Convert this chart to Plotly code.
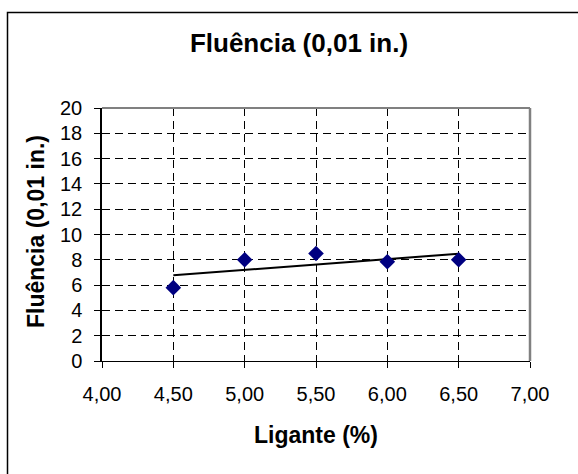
import numpy as np
import plotly.graph_objects as go

# Data
ligante = [4.5, 5.0, 5.5, 6.0, 6.5]
fluencia = [5.8, 8.0, 8.5, 7.85, 8.0]

title_text = "Fluência (0,01 in.)"
x_title = "Ligante (%)"
y_title = "Fluência (0,01 in.)"

FONT = "Liberation Sans, Arial, sans-serif"

# Linear trendline (Excel-style) computed from the data
coef = np.polyfit(ligante, fluencia, 1)
trend_x = [min(ligante), max(ligante)]
trend_y = list(np.polyval(coef, trend_x))

fig = go.Figure()
fig.add_trace(go.Scatter(
    x=trend_x, y=trend_y, mode="lines",
    line=dict(color="black", width=2), showlegend=False, hoverinfo="skip"))
fig.add_trace(go.Scatter(
    x=ligante, y=fluencia, mode="markers",
    marker=dict(symbol="diamond", size=12, color="#000080", line=dict(width=0)),
    showlegend=False))

W, H = 578, 474
L, R, T, B = 102, 48, 108, 113
pw = W - L - R
ph = H - T - B

def px_x(px):
    return (px - L) / pw

def px_y(py):
    return (H - B - py) / ph

fig.update_layout(
    width=W, height=H,
    margin=dict(l=L, r=R, t=T, b=B),
    paper_bgcolor="white", plot_bgcolor="white",
    separators=",.",
    font=dict(family=FONT, color="black"),
    title=dict(text="<b>" + title_text + "</b>", font=dict(size=26, family=FONT, color="black"),
               x=299 / W, xanchor="center", xref="container",
               y=(H - 43) / H, yanchor="middle", yref="container"),
    xaxis=dict(range=[4, 7], dtick=0.5, tick0=4, tickformat=".2f",
               showgrid=True, gridcolor="black", gridwidth=1, griddash="8px,5px",
               showline=True, linecolor="black", linewidth=1,
               ticks="outside", ticklen=6, tickcolor="black", tickwidth=1,
               tickfont=dict(size=20, family=FONT, color="black"),
               ticklabelstandoff=9, zeroline=False, fixedrange=True),
    yaxis=dict(range=[0, 20], dtick=2, tick0=0,
               showgrid=True, gridcolor="black", gridwidth=1, griddash="8px,5px",
               showline=True, linecolor="black", linewidth=1.5,
               ticks="outside", ticklen=6, tickcolor="black", tickwidth=1,
               tickfont=dict(size=20, family=FONT, color="black"),
               ticklabelstandoff=8, zeroline=False, fixedrange=True),
    annotations=[
        dict(text="<b>" + x_title + "</b>", xref="paper", yref="paper",
             x=px_x(316), y=px_y(435), xanchor="center", yanchor="middle",
             showarrow=False, font=dict(size=23, family=FONT, color="black")),
        dict(text="<b>" + y_title + "</b>", xref="paper", yref="paper",
             x=px_x(36), y=px_y(232), xanchor="center", yanchor="middle",
             textangle=-90, showarrow=False, font=dict(size=23, family=FONT, color="black")),
    ],
    shapes=[
        # plot area top & right border (grey)
        dict(type="line", xref="paper", yref="paper", x0=0, x1=1, y0=1, y1=1,
             line=dict(color="#808080", width=2)),
        dict(type="line", xref="paper", yref="paper", x0=1, x1=1, y0=0, y1=1,
             line=dict(color="#808080", width=2.5)),
        # outer chart border
        dict(type="rect", xref="paper", yref="paper",
             x0=px_x(7.5), x1=px_x(700), y0=px_y(600), y1=px_y(12.5),
             line=dict(color="black", width=1.5), fillcolor="rgba(0,0,0,0)", layer="above"),
    ],
)

fig.write_html("out.html", config=dict(displayModeBar=False))
